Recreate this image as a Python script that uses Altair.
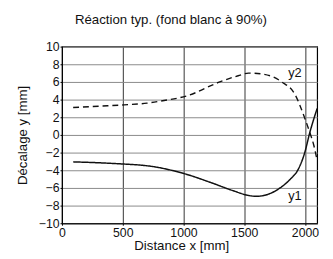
import altair as alt
import pandas as pd

# y1 (solid) curve
y1_x = [92, 300, 512, 650, 780, 900, 1023, 1217, 1406, 1535, 1600, 1700, 1800, 1880, 1944, 1998, 2040, 2070, 2100]
y1_y = [-3.05, -3.15, -3.3, -3.42, -3.65, -4.0, -4.45, -5.35, -6.3, -6.85, -6.95, -6.7, -5.95, -5.0, -3.9, -2.0, 0.3, 1.7, 3.0]

# y2 (dashed) curve
y2_x = [92, 300, 512, 700, 840, 1023, 1298, 1450, 1535, 1648, 1809, 1917, 1998, 2039, 2073, 2100]
y2_y = [3.1, 3.25, 3.4, 3.6, 3.9, 4.4, 6.0, 6.7, 7.0, 6.9, 6.0, 4.6, 1.9, 0.3, -1.2, -2.9]

label_text = ["y1", "y2"]
label_x = [1917, 1917]
label_y = [-6.9, 7.0]

x_ticks = [0, 500, 1000, 1500, 2000]
y_ticks = [-10, -8, -6, -4, -2, 0, 2, 4, 6, 8, 10]

FONT = "Liberation Sans"

df = pd.concat([
    pd.DataFrame({"x": y1_x, "y": y1_y, "s": "y1"}),
    pd.DataFrame({"x": y2_x, "y": y2_y, "s": "y2"}),
], ignore_index=True)
dfl = pd.DataFrame({"t": label_text, "x": label_x, "y": label_y})

xs = alt.Scale(domain=[0, 2100], nice=False, zero=False)
ys = alt.Scale(domain=[-10, 10], nice=False, zero=False)

xenc = alt.X("x:Q", scale=xs, axis=alt.Axis(
    values=x_ticks, format="d", title="Distance x [mm]", gridColor="#333333",
    titleX=121.5, titleY=16, titleBaseline="top"))
yenc = alt.Y("y:Q", scale=ys, axis=alt.Axis(
    values=y_ticks, format="d", title="Décalage y [mm]", gridColor="#8a8a8a", titlePadding=9))

lines = alt.Chart(df).mark_line(color="#111111", interpolate="monotone").encode(
    x=xenc,
    y=yenc,
    detail="s:N",
    strokeDash=alt.StrokeDash("s:N", scale=alt.Scale(domain=["y1", "y2"], range=[[1, 0], [6, 4]]),
                              legend=None),
    strokeWidth=alt.StrokeWidth("s:N", scale=alt.Scale(domain=["y1", "y2"], range=[1.5, 1.4]),
                                legend=None),
)
labels = alt.Chart(dfl).mark_text(font=FONT, fontSize=13, color="#111111").encode(
    x=xenc,
    y=yenc,
    text="t:N",
)

chart = alt.layer(lines, labels).properties(
    width=260, height=180,
    background="white",
    title=alt.TitleParams("Réaction typ. (fond blanc à 90%)", font=FONT, fontSize=13.5,
                          fontWeight="normal", color="#111111", offset=15, dx=-19),
    padding={"left": 7, "right": 5, "top": 2, "bottom": 0},
).configure_view(stroke="#000000", strokeWidth=1.2).configure_axis(
    grid=True, gridOpacity=1, gridWidth=1, tickSize=2, labelPadding=1,
    domainColor="#000000", tickColor="#000000", labelFlush=False, labelOverlap=False,
    labelFont=FONT, titleFont=FONT, labelFontSize=12.5, titleFontSize=13.5,
    titleFontWeight="normal", labelColor="#111111", titleColor="#111111",
)

chart.save("out.html", embed_options={"renderer": "svg", "actions": False})
